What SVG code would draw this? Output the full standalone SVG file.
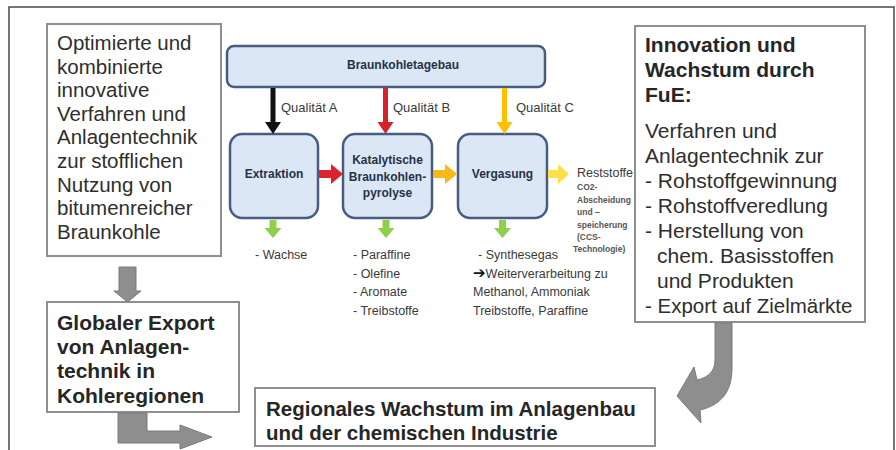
<svg xmlns="http://www.w3.org/2000/svg" width="896" height="450" viewBox="0 0 896 450">
<style>
.frame{fill:none;stroke:#4a4a4a;stroke-width:1.5}
.tbox{fill:#ffffff;stroke:#8f8f8f;stroke-width:2}
.big{font-family:"Liberation Sans","DejaVu Sans",sans-serif;font-size:21px;fill:#2e2e2e}
.bigb{font-family:"Liberation Sans","DejaVu Sans",sans-serif;font-size:21px;font-weight:bold;fill:#262626}
.pbox{fill:#dce7f6;stroke:#475d80;stroke-width:2.5}
.plabel{font-family:"Liberation Sans","DejaVu Sans",sans-serif;font-size:12px;font-weight:bold;fill:#243248;text-anchor:middle}
.small{font-family:"Liberation Sans","DejaVu Sans",sans-serif;font-size:12.5px;fill:#3a3a3a}
.tiny{font-family:"Liberation Sans","DejaVu Sans",sans-serif;font-size:8.5px;font-weight:bold;fill:#555}
.gray{fill:#8e8e8e;stroke:#7a7a7a;stroke-width:1}
</style>
<rect width="896" height="450" fill="#ffffff"/>
<path class="frame" d="M9,450 V7 H894 V450"/>

<g id="box-optimierte">
<rect class="tbox" x="47" y="24" width="174" height="232"/>
<text class="big" x="57" y="50" style="font-size:20.5px">Optimierte und</text>
<text class="big" x="57" y="73.6" style="font-size:20.5px">kombinierte</text>
<text class="big" x="57" y="97.2" style="font-size:20.5px">innovative</text>
<text class="big" x="57" y="120.8" style="font-size:20.5px">Verfahren und</text>
<text class="big" x="57" y="144.4" style="font-size:20.5px">Anlagentechnik</text>
<text class="big" x="57" y="168" style="font-size:20.5px">zur stofflichen</text>
<text class="big" x="57" y="191.6" style="font-size:20.5px">Nutzung von</text>
<text class="big" x="57" y="215.2" style="font-size:20.5px">bitumenreicher</text>
<text class="big" x="57" y="238.8" style="font-size:20.5px">Braunkohle</text>
</g>

<g id="box-innovation">
<rect class="tbox" x="635" y="26" width="230" height="296"/>
<text class="bigb" x="645" y="52">Innovation und</text>
<text class="bigb" x="645" y="77">Wachstum durch</text>
<text class="bigb" x="645" y="102">FuE:</text>
<text class="big" x="645" y="138">Verfahren und</text>
<text class="big" x="645" y="163">Anlagentechnik zur</text>
<text class="big" x="645" y="188">- Rohstoffgewinnung</text>
<text class="big" x="645" y="213">- Rohstoffveredlung</text>
<text class="big" x="645" y="238">- Herstellung von</text>
<text class="big" x="657" y="263">chem. Basisstoffen</text>
<text class="big" x="657" y="288">und Produkten</text>
<text class="big" x="645" y="313" style="font-size:20.5px">- Export auf Zielmärkte</text>
</g>

<g id="box-globaler">
<rect class="tbox" x="47" y="302" width="192" height="110"/>
<text class="bigb" x="57" y="330">Globaler Export</text>
<text class="bigb" x="57" y="354">von Anlagen-</text>
<text class="bigb" x="57" y="378">technik in</text>
<text class="bigb" x="57" y="403">Kohleregionen</text>
</g>

<g id="box-regionales">
<rect class="tbox" x="255" y="388" width="400" height="58"/>
<text class="bigb" x="266" y="416" style="font-size:20.5px">Regionales Wachstum im Anlagenbau</text>
<text class="bigb" x="266" y="440" style="font-size:20.5px">und der chemischen Industrie</text>
</g>

<g id="node-tagebau">
<rect class="pbox" x="227" y="46" width="318" height="41" rx="7"/>
<text class="plabel" x="403" y="69">Braunkohletagebau</text>
</g>

<g id="node-extraktion">
<rect class="pbox" x="230" y="134" width="88" height="84" rx="12"/>
<text class="plabel" x="274" y="178">Extraktion</text>
</g>

<g id="node-pyrolyse">
<rect class="pbox" x="343" y="134" width="89" height="84" rx="12"/>
<text class="plabel" x="387.5" y="164">Katalytische</text>
<text class="plabel" x="387.5" y="181">Braunkohlen-</text>
<text class="plabel" x="387.5" y="197">pyrolyse</text>
</g>

<g id="node-vergasung">
<rect class="pbox" x="458" y="134" width="89" height="84" rx="12"/>
<text class="plabel" x="502.5" y="178">Vergasung</text>
</g>

<g id="connectors">
<path d="M270.5,88 h5 v34 h5.5 l-8,12 l-8,-12 h5.5 z" fill="#111"/>
<path d="M383,88 h5 v34 h5.5 l-8,12 l-8,-12 h5.5 z" fill="#d8222a"/>
<path d="M502,88 h5 v34 h5.5 l-8,12 l-8,-12 h5.5 z" fill="#ffc000"/>
<path d="M319,170 h12 v-6 l12,10 l-12,10 v-6 h-12 z" fill="#dc2430"/>
<path d="M433,170 h12 v-6 l12,10 l-12,10 v-6 h-12 z" fill="#f7b917"/>
<path d="M548,170 h10 v-6 l11,10 l-11,10 v-6 h-10 z" fill="#ffe04a"/>
<path d="M269.5,220 h7 v8 h5 l-8.5,10 l-8.5,-10 h5 z" fill="#8fcf4c"/>
<path d="M382.5,220 h7 v8 h5 l-8.5,10 l-8.5,-10 h5 z" fill="#8fcf4c"/>
<path d="M499,220 h7 v8 h5 l-8.5,10 l-8.5,-10 h5 z" fill="#8fcf4c"/>
<polygon class="gray" points="119,267 136,267 136,291 141,291 127.5,302 114,291 119,291"/>
<polygon class="gray" points="118,413 147,413 147,431 180,431 180,425 212,437 180,449 180,443 118,443"/>
<path class="gray" d="M715,323 L732,323 L732,368 C732,392 721,405 700,410 L701,423 L677,396 L694,367 L697,380 C710,377 715,370 715,360 Z"/>
</g>

<g id="labels">
<text class="small" x="281" y="112" style="font-size:13px">Qualität A</text>
<text class="small" x="393" y="112" style="font-size:13px">Qualität B</text>
<text class="small" x="516" y="112" style="font-size:13px">Qualität C</text>
<text class="small" x="577" y="177">Reststoffe</text>
<text class="tiny" x="577" y="190">CO2-</text>
<text class="tiny" x="577" y="202.5">Abscheidung</text>
<text class="tiny" x="577" y="215">und –</text>
<text class="tiny" x="577" y="227.5">speicherung</text>
<text class="tiny" x="577" y="240">(CCS-</text>
<text class="tiny" x="573" y="252">Technologie)</text>
<text class="small" x="255" y="259">- Wachse</text>
<text class="small" x="353" y="259">- Paraffine</text>
<text class="small" x="353" y="277.5">- Olefine</text>
<text class="small" x="353" y="296">- Aromate</text>
<text class="small" x="353" y="314.5">- Treibstoffe</text>
<text class="small" x="478" y="259">- Synthesegas</text>
<text class="small" x="473" y="277.5"><tspan style="fill:#111;font-weight:bold;font-size:15px">➔</tspan>Weiterverarbeitung zu</text>
<text class="small" x="473" y="296">Methanol, Ammoniak</text>
<text class="small" x="473" y="314.5">Treibstoffe, Paraffine</text>
</g>
</svg>
